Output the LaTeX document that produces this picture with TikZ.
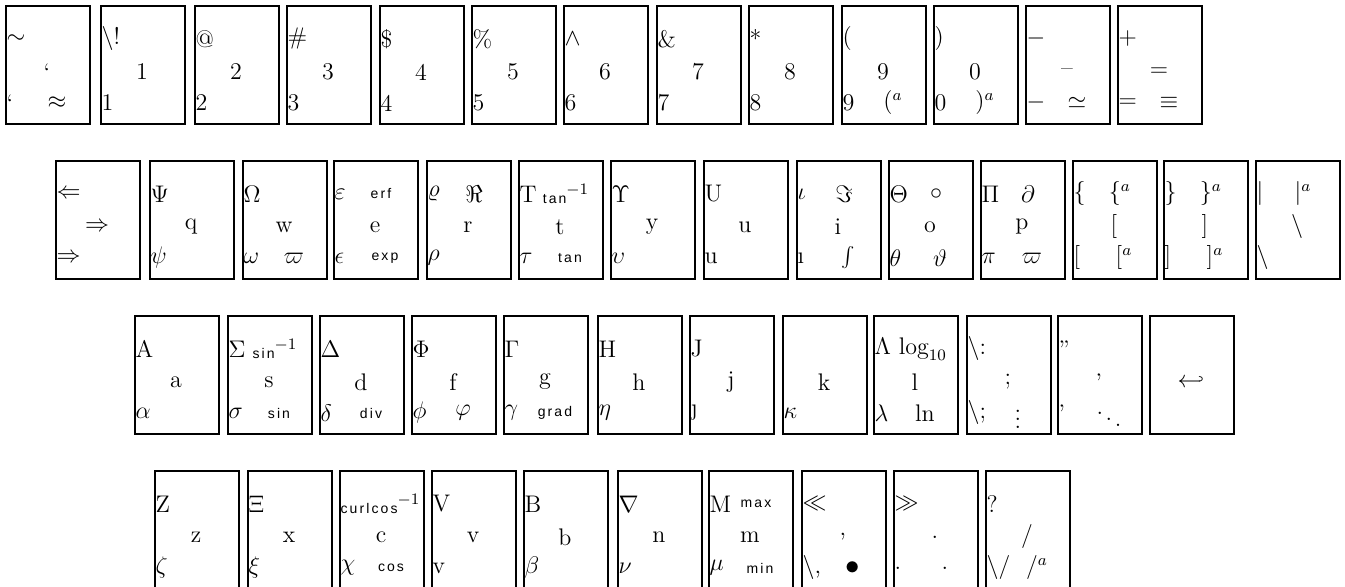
\documentclass[tikz,border=0pt]{standalone}
\usepackage{fontspec}
\newfontfamily\operfont[LetterSpace=15]{Liberation Sans}
\newcommand{\oper}[1]{{\scriptsize\operfont #1}}
% tecla: nombre, x, y (esquina superior izquierda), arriba-izq, arriba-der, centro, abajo-izq, abajo-der
\newcommand{\tecla}[8]{%
  \node[tecla] (#1) at (#2,#3) {};
  \if\relax\detokenize{#4}\relax\else\node[simb, anchor=west] (#1-ai) at (#2,#3+34) {#4};\fi
  \if\relax\detokenize{#5}\relax\else\node[simb] (#1-ad) at (#2+48,#3+34) {#5};\fi
  \if\relax\detokenize{#6}\relax\else\node[simb] (#1-c) at (#2+42,#3+67) {#6};\fi
  \if\relax\detokenize{#7}\relax\else\node[simb, anchor=west] (#1-bi) at (#2,#3+98) {#7};\fi
  \if\relax\detokenize{#8}\relax\else\node[simb] (#1-bd) at (#2+52,#3+98) {#8};\fi
}
\begin{document}
\begin{tikzpicture}[x=0.5pt, y=-0.5pt,
    tecla/.style={draw, line width=0.9pt, anchor=north west, inner sep=0pt,
      minimum width=42pt, minimum height=59pt},
    simb/.style={inner sep=0.6pt, font=\large}]
  \useasboundingbox (0,0) rectangle (1345,587);
  % Fila de numeros
  \tecla{tilde}{5}{5}{$\sim$}{}{`}{`}{$\approx$}
  \tecla{k1}{100}{5}{\textbackslash!}{}{1}{1}{}
  \tecla{k2}{194}{5}{@}{}{2}{2}{}
  \tecla{k3}{286}{5}{\#}{}{3}{3}{}
  \tecla{k4}{379}{5}{\$}{}{4}{4}{}
  \tecla{k5}{471}{5}{\%}{}{5}{5}{}
  \tecla{k6}{563}{5}{$\wedge$}{}{6}{6}{}
  \tecla{k7}{656}{5}{\&}{}{7}{7}{}
  \tecla{k8}{748}{5}{*}{}{8}{8}{}
  \tecla{k9}{841}{5}{(}{}{9}{9}{$(^a$}
  \tecla{k0}{933}{5}{)}{}{0}{0}{$)^a$}
  \tecla{menos}{1025}{5}{$-$}{}{--}{$-$}{$\simeq$}
  \tecla{igual}{1117}{5}{$+$}{}{$=$}{$=$}{$\equiv$}
  % Fila superior
  \tecla{tab}{55}{160}{$\Leftarrow$}{}{$\Rightarrow$}{$\Rightarrow$}{}
  \tecla{q}{149}{160}{$\Psi$}{}{q}{$\psi$}{}
  \tecla{w}{242}{160}{$\Omega$}{}{w}{$\omega$}{$\varpi$}
  \tecla{e}{333}{160}{$\varepsilon$}{\oper{erf}}{e}{$\epsilon$}{\oper{exp}}
  \tecla{r}{426}{160}{$\varrho$}{$\Re$}{r}{$\rho$}{}
  \tecla{t}{518}{160}{T}{\oper{tan}$^{-1}$}{t}{$\tau$}{\oper{tan}}
  \tecla{y}{610}{160}{$\Upsilon$}{}{y}{$\upsilon$}{}
  \tecla{u}{703}{160}{U}{}{u}{u}{}
  \tecla{i}{796}{160}{$\iota$}{$\Im$}{i}{\i}{$\int$}
  \tecla{o}{888}{160}{$\Theta$}{$\circ$}{o}{$\theta$}{$\vartheta$}
  \tecla{p}{980}{160}{$\Pi$}{$\partial$}{p}{$\pi$}{$\varpi$}
  \tecla{llave-a}{1072}{160}{$\{$}{$\{^a$}{[}{[}{$[^a$}
  \tecla{llave-c}{1163}{160}{$\}$}{$\}^a$}{]}{]}{$]^a$}
  \tecla{barra}{1255}{160}{$|$}{$|^a$}{\textbackslash}{\textbackslash}{}
  % Fila central
  \tecla{a}{134}{315}{A}{}{a}{$\alpha$}{}
  \tecla{s}{227}{315}{$\Sigma$}{\oper{sin}$^{-1}$}{s}{$\sigma$}{\oper{sin}}
  \tecla{d}{319}{315}{$\Delta$}{}{d}{$\delta$}{\oper{div}}
  \tecla{f}{411}{315}{$\Phi$}{}{f}{$\phi$}{$\varphi$}
  \tecla{g}{503}{315}{$\Gamma$}{}{g}{$\gamma$}{\oper{grad}}
  \tecla{h}{597}{315}{H}{}{h}{$\eta$}{}
  \tecla{j}{689}{315}{J}{}{j}{\j}{}
  \tecla{k}{782}{315}{}{}{k}{$\kappa$}{}
  \tecla{l}{873}{315}{$\Lambda\,\log_{10}$}{}{l}{$\lambda$}{$\ln$}
  \tecla{pcoma}{966}{315}{\textbackslash:}{}{;}{\textbackslash;}{$\vdots$}
  \tecla{comilla}{1057}{315}{''}{}{'}{'}{$\ddots$}
  \tecla{intro}{1149}{315}{}{}{$\hookleftarrow$}{}{}
  % Fila inferior
  \tecla{z}{154}{470}{Z}{}{z}{$\zeta$}{}
  \tecla{x}{247}{470}{$\Xi$}{}{x}{$\xi$}{}
  \tecla{c}{339}{470}{\oper{curlcos}$^{-1}$}{}{c}{$\chi$}{\oper{cos}}
  \tecla{v}{431}{470}{V}{}{v}{v}{}
  \tecla{b}{523}{470}{B}{}{b}{$\beta$}{}
  \tecla{n}{617}{470}{$\nabla$}{}{n}{$\nu$}{}
  \tecla{m}{708}{470}{M}{\oper{max}}{m}{$\mu$}{\oper{min}}
  \tecla{coma}{801}{470}{$\ll$}{}{,}{\textbackslash,}{{\Large$\bullet$}}
  \tecla{punto}{893}{470}{$\gg$}{}{.}{.}{.}
  \tecla{barra-d}{985}{470}{?}{}{/}{\textbackslash/}{$/^a$}
\end{tikzpicture}
\end{document}
